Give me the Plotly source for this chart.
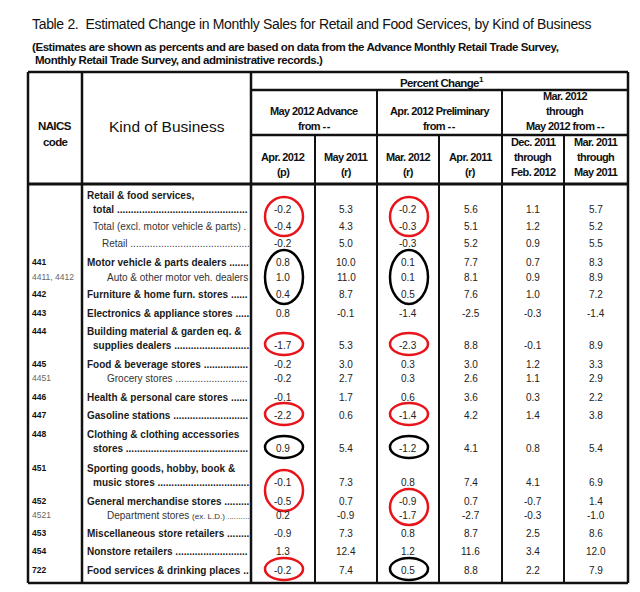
import plotly.graph_objects as go

# ---------------- data ----------------
TITLE = "Table 2.  Estimated Change in Monthly Sales for Retail and Food Services, by Kind of Business"
SUBTITLE = ["(Estimates are shown as percents and are based on data from the Advance Monthly Retail Trade Survey,",
            "Monthly Retail Trade Survey, and administrative records.)"]
TOP_HEADER = "Percent Change"
GROUP_HEADERS = [["May 2012 Advance", "from --"],
                 ["Apr. 2012 Preliminary", "from --"],
                 ["Mar. 2012", "through", "May 2012 from --"]]
COLUMN_HEADERS = [["Apr. 2012", "(p)"], ["May 2011", "(r)"], ["Mar. 2012", "(r)"],
                  ["Apr. 2011", "(r)"], ["Dec. 2011", "through", "Feb. 2012"],
                  ["Mar. 2011", "through", "May 2011"]]

naics_codes = ["", "", "", "441", "4411, 4412", "442", "443", "444", "445", "4451",
               "446", "447", "448", "451", "452", "4521", "453", "454", "722"]
business = [["Retail & food services,", "total"],
            ["Total (excl. motor vehicle & parts)"],
            ["Retail"],
            ["Motor vehicle & parts dealers"],
            ["Auto & other motor veh. dealers"],
            ["Furniture & home furn. stores"],
            ["Electronics & appliance stores"],
            ["Building material & garden eq. &", "supplies dealers"],
            ["Food & beverage stores"],
            ["Grocery stores"],
            ["Health & personal care stores"],
            ["Gasoline stations"],
            ["Clothing & clothing accessories", "stores"],
            ["Sporting goods, hobby, book &", "music stores"],
            ["General merchandise stores"],
            ["Department stores (ex. L.D.)"],
            ["Miscellaneous store retailers"],
            ["Nonstore retailers"],
            ["Food services & drinking places"]]

apr2012_p   = [-0.2, -0.4, -0.2, 0.8, 1.0, 0.4, 0.8, -1.7, -0.2, -0.2, -0.1, -2.2, 0.9, -0.1, -0.5, 0.2, -0.9, 1.3, -0.2]
may2011_r   = [5.3, 4.3, 5.0, 10.0, 11.0, 8.7, -0.1, 5.3, 3.0, 2.7, 1.7, 0.6, 5.4, 7.3, 0.7, -0.9, 7.3, 12.4, 7.4]
mar2012_r   = [-0.2, -0.3, -0.3, 0.1, 0.1, 0.5, -1.4, -2.3, 0.3, 0.3, 0.6, -1.4, -1.2, 0.8, -0.9, -1.7, 0.8, 1.2, 0.5]
apr2011_r   = [5.6, 5.1, 5.2, 7.7, 8.1, 7.6, -2.5, 8.8, 3.0, 2.6, 3.6, 4.2, 4.1, 7.4, 0.7, -2.7, 8.7, 11.6, 8.8]
dec11_feb12 = [1.1, 1.2, 0.9, 0.7, 0.9, 1.0, -0.3, -0.1, 1.2, 1.1, 0.3, 1.4, 0.8, 4.1, -0.7, -0.3, 2.5, 3.4, 2.2]
mar11_may11 = [5.7, 5.2, 5.5, 8.3, 8.9, 7.2, -1.4, 8.9, 3.3, 2.9, 2.2, 3.8, 5.4, 6.9, 1.4, -1.0, 8.6, 12.0, 7.9]
columns = [apr2012_p, may2011_r, mar2012_r, apr2011_r, dec11_feb12, mar11_may11]

# hand-drawn marks: (column index, first row, last row)
red_marks = [(0, 0, 1), (2, 0, 1), (0, 7, 7), (2, 7, 7), (0, 11, 11), (2, 11, 11),
             (0, 13, 14), (2, 14, 15), (0, 18, 18)]
black_marks = [(0, 3, 5), (2, 3, 5), (0, 12, 12), (2, 12, 12), (2, 18, 18)]

# ---------------- layout / style ----------------
SANS = "Liberation Sans, Arial, sans-serif"
TXT = "#1a1a1a"
PAGE_OFFSET = 8  # default body margin of the html page

X_LEFT, X_CODE, X_KIND, X_RIGHT = 28, 82, 251, 628
COL_EDGES = [251, 315, 377, 439, 502, 564, 628]
Y_TOP, Y_PC, Y_GRP, Y_HDR, Y_BOT = 72, 90, 135, 184, 583
ROW_Y = [209, 226, 243, 262, 277, 294, 313, 345, 364, 378, 397, 415, 448, 482, 501, 515, 533, 551, 570]
ROW_LEVEL = [0, 1, 2, 0, 3, 0, 0, 0, 0, 3, 0, 0, 0, 0, 0, 3, 0, 0, 0]
LEVEL_X = {0: 85, 1: 91, 2: 100, 3: 105}
LINE_GAP = 15
LABEL_FS = 10
DOT_END = 248
HDR_FS = 11
HDR_LS = -0.62

AR = dict(zip(" &(),-.", [278, 667, 333, 333, 278, 333, 278]))
AR.update(dict(zip("ABCDEFGHIJKLMNOPQRSTUVWXYZ",
                   [667, 667, 722, 722, 667, 611, 778, 722, 278, 500, 667, 556, 833, 722, 778, 667, 778, 722, 667, 611, 722, 667, 944, 667, 667, 611])))
AR.update(dict(zip("abcdefghijklmnopqrstuvwxyz",
                   [556, 556, 500, 556, 556, 278, 556, 556, 222, 222, 500, 222, 833, 556, 556, 556, 556, 333, 500, 278, 556, 500, 722, 500, 500, 500])))
ARB = dict(zip(" &(),-.", [278, 722, 333, 333, 278, 333, 278]))
ARB.update(dict(zip("ABCDEFGHIJKLMNOPQRSTUVWXYZ",
                    [722, 722, 722, 722, 667, 611, 778, 722, 278, 556, 722, 611, 833, 722, 778, 667, 778, 722, 667, 611, 722, 667, 944, 667, 667, 611])))
ARB.update(dict(zip("abcdefghijklmnopqrstuvwxyz",
                    [556, 611, 556, 611, 556, 333, 611, 611, 278, 278, 556, 278, 889, 611, 611, 611, 611, 389, 556, 333, 611, 556, 778, 556, 556, 500])))


def text_w(s, fs, bold):
    tab = ARB if bold else AR
    return sum(tab.get(c, 556) for c in s) * fs / 1000.0


def fit_ls(s, fs, bold, target):
    return (target - text_w(s, fs, bold)) / len(s)


def dots(x0, used, fs):
    n = int((DOT_END - x0 - used) / (0.278 * fs))
    return "." * max(n, 0)


def spaced(text, ls):
    """wrap text in letter-spacing spans; keep double dashes apart"""
    parts = text.split("--")
    out = []
    for i, p in enumerate(parts):
        if p:
            out.append("<span style='letter-spacing:%.2fpx'>%s</span>" % (ls, p))
        if i < len(parts) - 1:
            out.append("<span style='letter-spacing:0.6px'>--</span>")
    return "".join(out)


fig = go.Figure()
fig.add_trace(go.Scatter(x=[100], y=[100], mode="markers", marker=dict(opacity=0),
                         hoverinfo="skip", showlegend=False))

ann = []


def add_text(x, y, text, size, color=TXT, xanchor="center", bold=False, ls=None):
    if ls is not None:
        text = spaced(text, ls)
    if bold:
        text = "<b>" + text + "</b>"
    ann.append(dict(x=x, y=y, text=text, showarrow=False, xanchor=xanchor, yanchor="middle",
                    font=dict(size=size, family=SANS, color=color), xref="x", yref="y"))


# title & subtitle
add_text(30, 24, TITLE, 14, "#111", "left", ls=fit_ls(TITLE, 14, False, 561))
add_text(30, 47, SUBTITLE[0], 11.5, "#111", "left", bold=True, ls=fit_ls(SUBTITLE[0], 11.5, True, 528))
add_text(33, 60, SUBTITLE[1], 11.5, "#111", "left", bold=True, ls=fit_ls(SUBTITLE[1], 11.5, True, 289))

# header block
ann.append(dict(x=(X_KIND + X_RIGHT) / 2 + 2, y=(Y_TOP + Y_PC) / 2 + 1, xref="x", yref="y",
                text="<b>" + spaced(TOP_HEADER, HDR_LS) + "<sup>1</sup></b>", showarrow=False,
                xanchor="center", yanchor="middle", font=dict(size=HDR_FS + 0.5, family=SANS, color="#111")))
grp_spans = [(COL_EDGES[0], COL_EDGES[2]), (COL_EDGES[2], COL_EDGES[4]), (COL_EDGES[4], COL_EDGES[6])]
for (a, b), lines in zip(grp_spans, GROUP_HEADERS):
    y0 = 126 - LINE_GAP * (len(lines) - 1)
    for k, t in enumerate(lines):
        add_text((a + b) / 2, y0 + k * LINE_GAP, t, HDR_FS, "#111", bold=True, ls=HDR_LS)
for i, lines in enumerate(COLUMN_HEADERS):
    cx = (COL_EDGES[i] + COL_EDGES[i + 1]) / 2
    y0 = 172 - LINE_GAP * (len(lines) - 1)
    for k, t in enumerate(lines):
        add_text(cx, y0 + k * LINE_GAP, t, HDR_FS, "#111", bold=True, ls=HDR_LS)
add_text((X_LEFT + X_CODE) / 2, 126, "NAICS", HDR_FS + 0.5, "#111", bold=True, ls=HDR_LS)
add_text((X_LEFT + X_CODE) / 2, 142, "code", HDR_FS + 0.5, "#111", bold=True, ls=HDR_LS)
add_text((X_CODE + X_KIND) / 2, 126, "Kind of Business", 15.5, "#111")

# body rows
for r, (code, label) in enumerate(zip(naics_codes, business)):
    yv = ROW_Y[r]
    lvl = ROW_LEVEL[r]
    bold = lvl == 0
    n = len(label)
    for k, line in enumerate(label):
        y = yv - (LINE_GAP - 1) * (n - 1 - k)
        x0 = LEVEL_X[lvl] if k == 0 else LEVEL_X[1]
        last = k == n - 1
        if "(ex." in line:
            main, small = line.split("(", 1)
            small = "(" + small
            used = text_w(main, LABEL_FS, False) + text_w(small, 8, False) + 2
            txt = main + "<span style='font-size:8px'>" + small + " " + dots(x0, used, 8) + "</span>"
        elif last:
            used = text_w(line + " ", LABEL_FS, bold)
            txt = line + " " + dots(x0, used, LABEL_FS)
        else:
            txt = line
        add_text(x0, y, txt, LABEL_FS, TXT if bold else "#333", "left", bold=bold)
    if code:
        ycode = yv - (LINE_GAP - 1) * (n - 1)
        sub = lvl == 3
        add_text(30, ycode, code, 8.5, "#666" if sub else "#111", "left", bold=not sub)
    for c, col in enumerate(columns):
        cx = (COL_EDGES[c] + COL_EDGES[c + 1]) / 2
        add_text(cx, yv, f"{col[r]:.1f}", 10, "#222")

# grid lines
shapes = []


def seg(x0, y0, x1, y1, w=2):
    shapes.append(dict(type="line", x0=x0, y0=y0, x1=x1, y1=y1, xref="x", yref="y",
                       line=dict(color="#111", width=w)))


seg(X_LEFT, Y_TOP, X_RIGHT, Y_TOP, 2.5)
seg(X_LEFT, Y_BOT, X_RIGHT, Y_BOT, 2.5)
seg(X_LEFT, Y_TOP, X_LEFT, Y_BOT, 2.5)
seg(X_RIGHT, Y_TOP, X_RIGHT, Y_BOT, 2.5)
seg(X_CODE, Y_TOP, X_CODE, Y_BOT, 2.5)
seg(X_KIND, Y_TOP, X_KIND, Y_BOT, 2.5)
seg(X_KIND, Y_PC, X_RIGHT, Y_PC, 2.5)
seg(X_KIND, Y_GRP, X_RIGHT, Y_GRP, 2.5)
seg(X_LEFT, Y_HDR, X_RIGHT, Y_HDR, 3.2)
for i, xe in enumerate(COL_EDGES[1:-1], start=1):
    seg(xe, Y_GRP if i % 2 == 1 else Y_PC, xe, Y_BOT, 2)

# hand-drawn ellipses
for marks, color in ((red_marks, "#e8141a"), (black_marks, "#000000")):
    for c, r0, r1 in marks:
        cx = (COL_EDGES[c] + COL_EDGES[c + 1]) / 2 + 1
        shapes.append(dict(type="circle", xref="x", yref="y", x0=cx - 19, x1=cx + 19,
                           y0=ROW_Y[r0] - 12, y1=ROW_Y[r1] + 10,
                           line=dict(color=color, width=2.5)))

W, H = 640, 592
fig.update_layout(width=W - PAGE_OFFSET, height=H - PAGE_OFFSET, margin=dict(l=0, r=0, t=0, b=0),
                  paper_bgcolor="white", plot_bgcolor="white",
                  annotations=ann, shapes=shapes, showlegend=False)
fig.update_xaxes(visible=False, range=[PAGE_OFFSET, W], fixedrange=True)
fig.update_yaxes(visible=False, range=[H, PAGE_OFFSET], fixedrange=True)
fig.write_html("out.html", config={"displayModeBar": False})
